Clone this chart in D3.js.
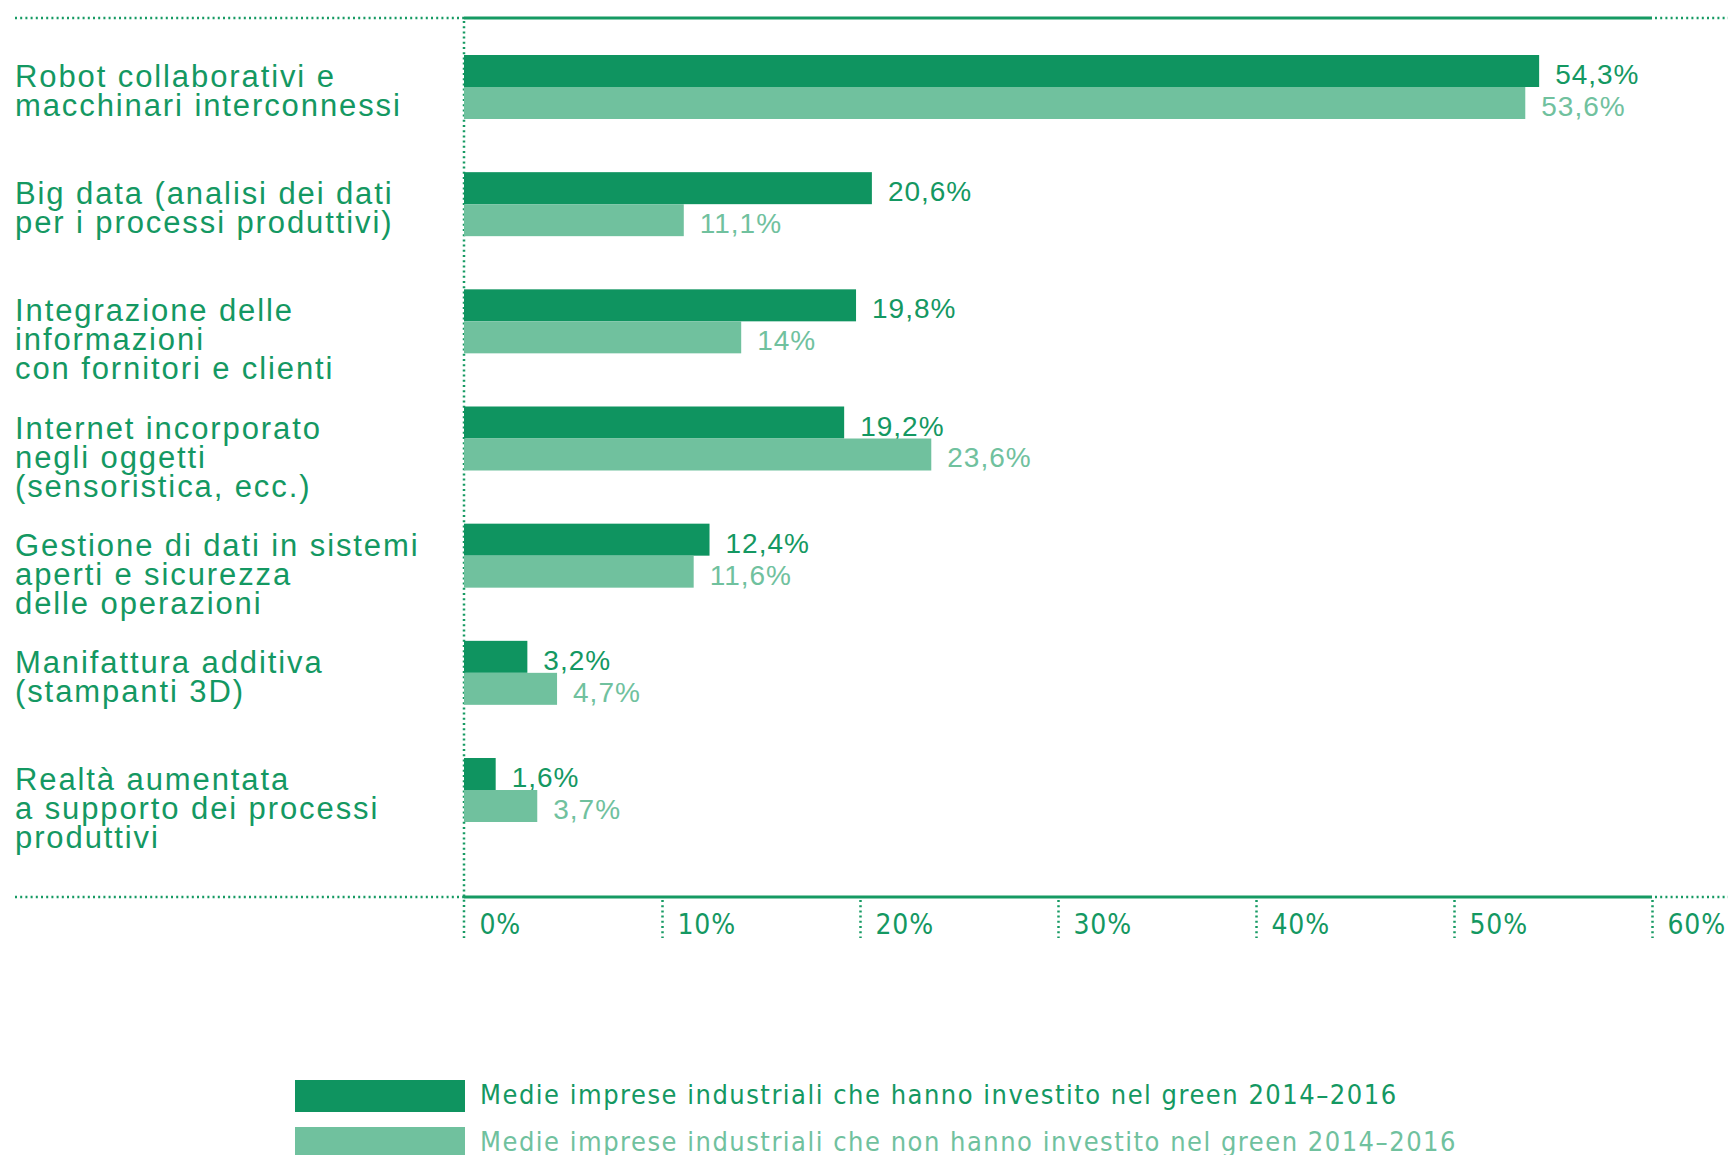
<!DOCTYPE html>
<html>
<head>
<meta charset="utf-8">
<script src="https://cdn.jsdelivr.net/npm/d3@7"></script>
<style>
  html, body { margin: 0; padding: 0; background: #fff; }
  svg { display: block; }
  .cat { font-family: "Liberation Sans", Arial, sans-serif; font-size: 31px; letter-spacing: 1.9px; }
  .val { font-family: "Liberation Sans", Arial, sans-serif; font-size: 28px; letter-spacing: 1px; }
  .tick { font-family: "Liberation Sans Narrow", "DejaVu Sans Condensed", sans-serif; font-size: 28px; letter-spacing: 0.8px; }
  .leg { font-family: "Liberation Sans Narrow", "DejaVu Sans Condensed", sans-serif; font-size: 27px; letter-spacing: 1.5px; }
</style>
</head>
<body>
<svg id="chart" width="1728" height="1155"></svg>
<script>
// ---- data ----
const categories = [
  ["Robot collaborativi e", "macchinari interconnessi"],
  ["Big data (analisi dei dati", "per i processi produttivi)"],
  ["Integrazione delle", "informazioni", "con fornitori e clienti"],
  ["Internet incorporato", "negli oggetti", "(sensoristica, ecc.)"],
  ["Gestione di dati in sistemi", "aperti e sicurezza", "delle operazioni"],
  ["Manifattura additiva", "(stampanti 3D)"],
  ["Realtà aumentata", "a supporto dei processi", "produttivi"]
];
const seriesNames = [
  "Medie imprese industriali che hanno investito nel green 2014–2016",
  "Medie imprese industriali che non hanno investito nel green 2014–2016"
];
const greenInvested = [54.3, 20.6, 19.8, 19.2, 12.4, 3.2, 1.6];
const greenNotInvested = [53.6, 11.1, 14.0, 23.6, 11.6, 4.7, 3.7];
const valueLabels1 = ["54,3%", "20,6%", "19,8%", "19,2%", "12,4%", "3,2%", "1,6%"];
const valueLabels2 = ["53,6%", "11,1%", "14%", "23,6%", "11,6%", "4,7%", "3,7%"];
const tickValues = [0, 10, 20, 30, 40, 50, 60];
const tickLabels = ["0%", "10%", "20%", "30%", "40%", "50%", "60%"];

// ---- styles ----
const DARK = "#0f9460", LIGHT = "#70c19e", TEXT = "#149862", LINE = "#169a63";

const svg = d3.select("#chart");
const W = 1728;

const x = d3.scaleLinear().domain([0, 60]).range([464, 1652]);
const idx = d3.range(categories.length);
const y = d3.scaleBand().domain(idx).range([55, 822]).paddingInner(1 - 64 / 117.17).paddingOuter(0).align(0);
const ySub = d3.scaleBand().domain([0, 1]).range([0, y.bandwidth()]);

const topY = 18, axisY = 897, tickBottom = 938;

// horizontal frame lines
function hLine(yy) {
  svg.append("line").attr("x1", 15).attr("x2", x(0)).attr("y1", yy).attr("y2", yy)
    .attr("stroke", LINE).attr("stroke-width", 2.5).attr("stroke-dasharray", "2 3.2");
  svg.append("line").attr("x1", x(0)).attr("x2", x(60)).attr("y1", yy).attr("y2", yy)
    .attr("stroke", LINE).attr("stroke-width", 3.2);
  svg.append("line").attr("x1", x(60) + 3).attr("x2", W).attr("y1", yy).attr("y2", yy)
    .attr("stroke", LINE).attr("stroke-width", 2.5).attr("stroke-dasharray", "2 3.2");
}
hLine(topY);
hLine(axisY);

// vertical zero line
svg.append("line").attr("x1", x(0)).attr("x2", x(0)).attr("y1", topY + 3).attr("y2", tickBottom)
  .attr("stroke", LINE).attr("stroke-width", 2.5).attr("stroke-dasharray", "2 3.2");

// axis with dotted ticks
const axis = d3.axisBottom(x).tickValues(tickValues).tickSize(0).tickFormat((d, i) => tickLabels[i]);
const gAxis = svg.append("g").attr("transform", `translate(0,${axisY})`).call(axis);
gAxis.select(".domain").remove();
gAxis.selectAll(".tick").each(function(d) {
  const g = d3.select(this);
  if (d !== 0) {
    g.append("line").attr("x1", 0).attr("x2", 0).attr("y1", 3).attr("y2", tickBottom - axisY)
      .attr("stroke", LINE).attr("stroke-width", 2.5).attr("stroke-dasharray", "2 3.2");
  }
  g.select("text").attr("class", "tick").attr("fill", TEXT).attr("text-anchor", "start")
    .attr("x", 15).attr("y", 37).attr("dy", null);
});

// bars
const series = [greenInvested, greenNotInvested];
const labels = [valueLabels1, valueLabels2];
const colors = [DARK, LIGHT];
series.forEach((vals, s) => {
  svg.append("g").selectAll("rect").data(vals).join("rect")
    .attr("x", x(0))
    .attr("y", (d, i) => y(i) + ySub(s))
    .attr("width", d => x(d) - x(0))
    .attr("height", ySub.bandwidth())
    .attr("fill", colors[s]);
  svg.append("g").selectAll("text").data(vals).join("text")
    .attr("class", "val")
    .attr("x", d => x(d) + 16)
    .attr("y", (d, i) => y(i) + ySub(s) + ySub.bandwidth() - 3)
    .attr("fill", s === 0 ? TEXT : LIGHT)
    .text((d, i) => labels[s][i]);
});

// category labels
const gCat = svg.append("g");
categories.forEach((lines, i) => {
  const t = gCat.append("text").attr("class", "cat").attr("fill", TEXT)
    .attr("x", 15).attr("y", y(i) + 32);
  lines.forEach((ln, j) => {
    t.append("tspan").attr("x", 15).attr("dy", j === 0 ? 0 : 29).text(ln);
  });
});

// legend
const leg = svg.append("g");
const legY = d3.scaleBand().domain([0, 1]).range([1080, 1159]).paddingInner(1 - 32 / 47).paddingOuter(0).align(0);
seriesNames.forEach((name, s) => {
  leg.append("rect").attr("x", 295).attr("y", legY(s)).attr("width", 170).attr("height", 32).attr("fill", colors[s]);
  leg.append("text").attr("class", "leg").attr("x", 480).attr("y", legY(s) + 24)
    .attr("fill", s === 0 ? TEXT : LIGHT).text(name);
});
</script>
</body>
</html>
